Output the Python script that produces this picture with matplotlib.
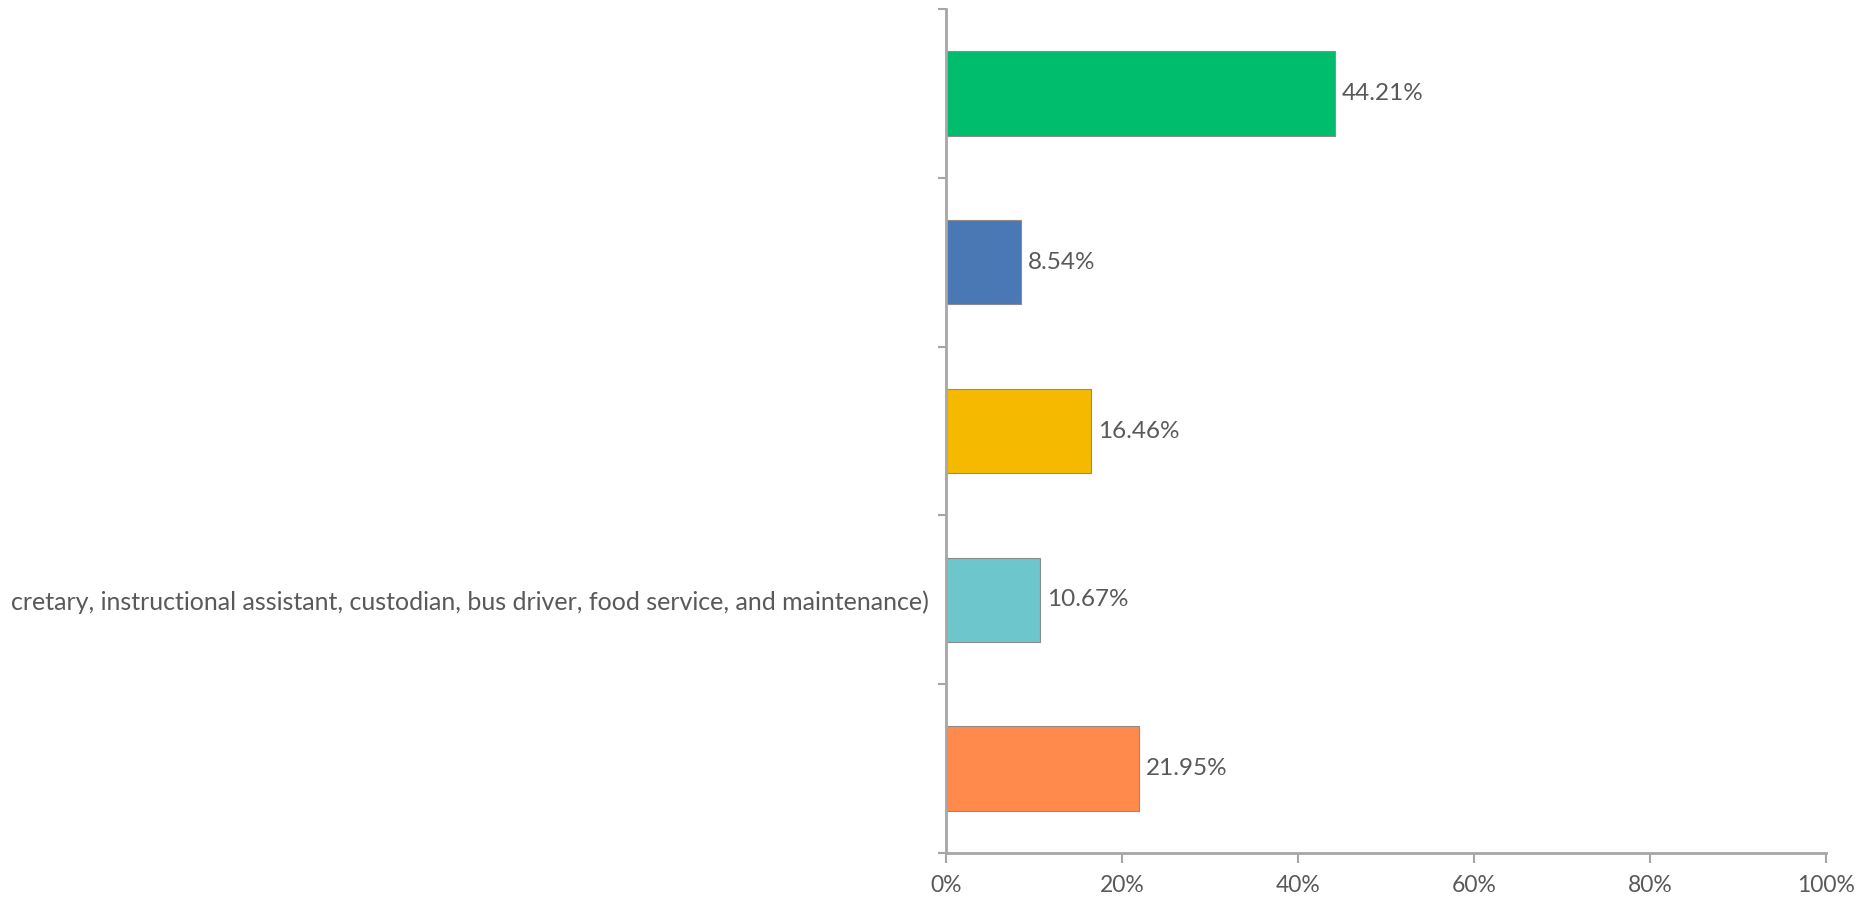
import matplotlib
matplotlib.use("Agg")
import matplotlib.pyplot as plt
from matplotlib.ticker import PercentFormatter

plt.rcParams["font.family"] = ["Lato", "DejaVu Sans"]

# bottom to top
labels = ["", "cretary, instructional assistant, custodian, bus driver, food service, and maintenance)", "", "", ""]
values = [21.95, 10.67, 16.46, 8.54, 44.21]
colors = ["#FF8A4C", "#6CC6CB", "#F5BA00", "#4A78B5", "#00BD6E"]
xticks = [0, 20, 40, 60, 80, 100]

gray = "#595959"
axis_c = "#A6A6A6"

fig = plt.figure(figsize=(18.62, 9.0), dpi=100)
ax = fig.add_axes([946 / 1862, 47 / 900, 880 / 1862, 844 / 900])

y = range(len(values))
ax.barh(y, values, height=0.5, color=colors, edgecolor="#8C8C8C", linewidth=0.8)
for yi, v in zip(y, values):
    ax.text(v + 0.8, yi, f"{v:.2f}%", va="center", ha="left", fontsize=17.5, color=gray)

ax.set_xlim(0, 100)
ax.set_ylim(-0.5, 4.5)
ax.set_xticks(xticks)
ax.xaxis.set_major_formatter(PercentFormatter(decimals=0))

# category labels centred in bands, tick marks on band edges
ax.set_yticks([i - 0.5 for i in range(len(values) + 1)])
ax.set_yticklabels([])
ax.set_yticks(list(y), minor=True)
ax.set_yticklabels(labels, minor=True, fontsize=18, color=gray)
ax.tick_params(axis="y", which="minor", length=0, pad=12)
ax.tick_params(axis="y", which="major", length=6, color=axis_c, width=1.5)
ax.tick_params(axis="x", length=7, color=axis_c, width=1.5, labelsize=16.5, labelcolor=gray, pad=9)

for s in ("top", "right"):
    ax.spines[s].set_visible(False)
for s in ("left", "bottom"):
    ax.spines[s].set_color(axis_c)
    ax.spines[s].set_linewidth(2)

fig.savefig("out.png", dpi=100)
